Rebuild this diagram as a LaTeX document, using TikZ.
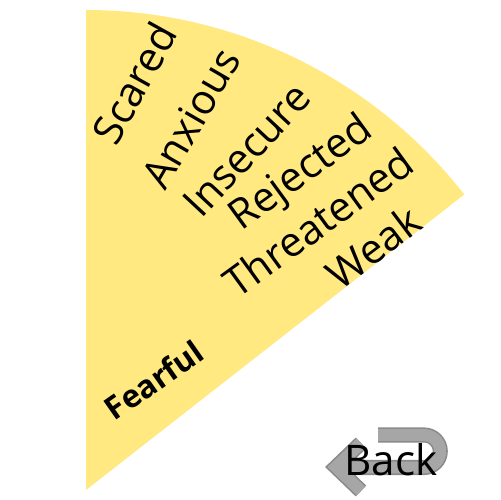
\documentclass[tikz,border=0pt]{standalone}
\usepackage{fontspec}
\setmainfont{Open Sans}
\definecolor{wheelyellow}{HTML}{FFE980}
\definecolor{arrowgray}{HTML}{A6A6A6}
\definecolor{arrowedge}{HTML}{8A8A8A}

\begin{document}
\begin{tikzpicture}[
  x=0.02cm, y=0.02cm,
  petal/.style={fill=wheelyellow, draw=none},
  feeling/.style={inner sep=0pt, text=black, font=\fontsize{23.5}{28}\selectfont},
  core/.style={inner sep=0pt, text=black, font=\bfseries\fontsize{18}{21}\selectfont},
  uturnedge/.style={draw=arrowedge, line width=8.6pt, miter limit=10},
  uturnfill/.style={draw=arrowgray, line width=6.8pt, miter limit=10}
]
\useasboundingbox (0,0) rectangle (500,500);

% --- the fearful slice of the wheel ---
\fill[petal] (86,10) -- ++(38:480) arc[start angle=38, end angle=90, radius=480] -- cycle;

% --- outer ring words ---
\node[feeling, rotate=61] (scared)     at (134,417) {Scared};
\node[feeling, rotate=60] (anxious)    at (191,382) {Anxious};
\node[feeling, rotate=47] (insecure)   at (247,350) {Insecure};
\node[feeling, rotate=36] (rejected)   at (302,326) {Rejected};
\node[feeling, rotate=36] (threatened) at (318,278) {Threatened};
\node[feeling, rotate=37] (weak)       at (373,253) {Weak};

% --- core emotion ---
\node[core, rotate=35] (fearful) at (154,120) {Fearful};

% --- back button: u-turn arrow behind the label ---
\foreach \pass in {uturnedge, uturnfill} {
  \draw[\pass] (378,65) -- (424,65) arc[start angle=90, end angle=-90, radius=16.25] -- (340,32.5);
  \draw[\pass] (361,57) -- (336,33) -- (361,9);
}
\node[inner sep=0pt, font=\fontsize{24}{28}\selectfont] (back) at (391,40) {Back};

\end{tikzpicture}
\end{document}
